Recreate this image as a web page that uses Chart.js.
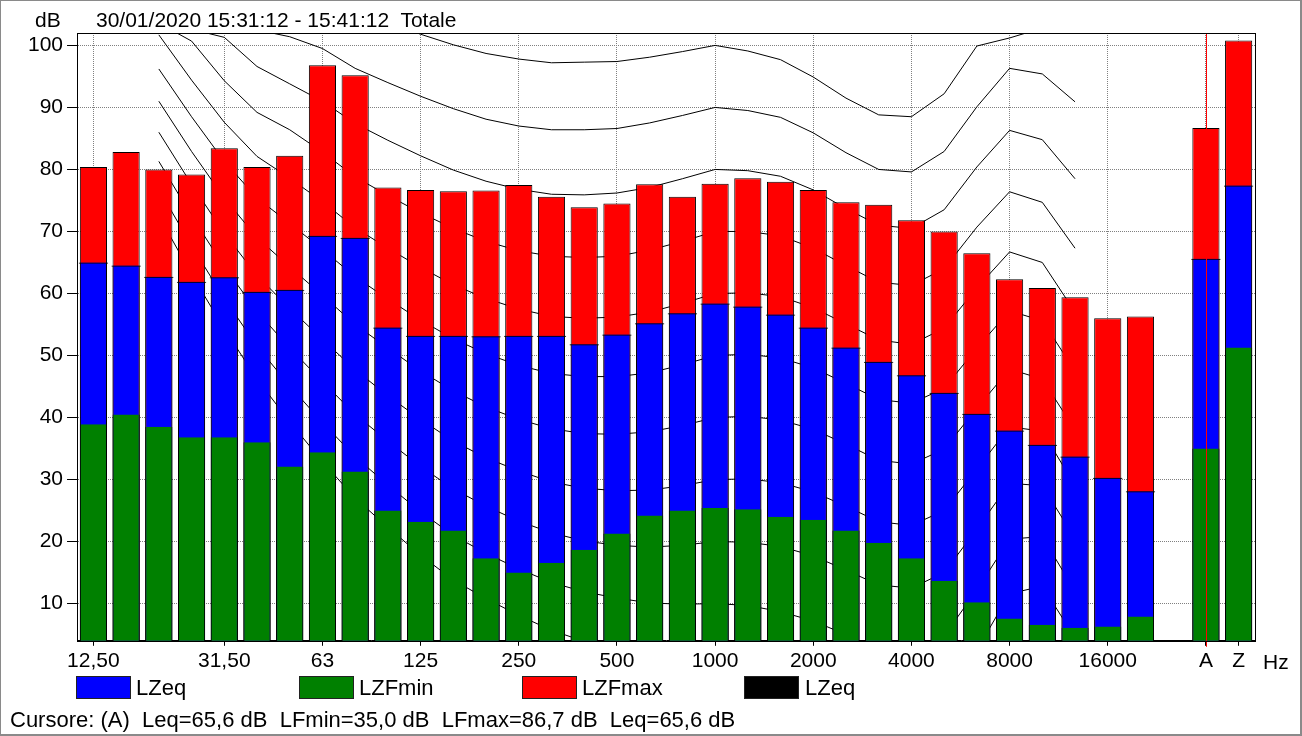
<!DOCTYPE html>
<html>
<head>
<meta charset="utf-8">
<script src="https://cdn.jsdelivr.net/npm/chart.js@4/dist/chart.umd.min.js"></script>
<style>
  html, body { margin: 0; padding: 0; background: #fff; }
  #page { position: relative; width: 1302px; height: 736px; overflow: hidden; font-family: "Liberation Sans", Arial, sans-serif; color: #000; }
  #frame { position: absolute; left: 0; top: 0; width: 1299px; height: 733px; border: 1px solid #8a8a8a; border-right-width: 2px; border-bottom-width: 2px; box-sizing: content-box; pointer-events: none; }
  canvas { position: absolute; left: 0; top: 0; }
  .txt { position: absolute; white-space: pre; line-height: 1; }
  .box { position: absolute; width: 53px; height: 21px; border: 1px solid #222; top: 676px; }
</style>
</head>
<body>
<div id="page">
  <canvas id="chart" width="1302" height="736"></canvas>
  <div class="txt" style="left:35px; top:9px; font-size:21px;">dB</div>
  <div class="txt" style="left:96px; top:9px; font-size:21px;">30/01/2020 15:31:12 - 15:41:12  Totale</div>
  <div class="txt" style="left:1263px; top:651px; font-size:21px;">Hz</div>
  <div class="box" style="left:76px; background:#0000ff;"></div>
  <div class="txt" style="left:136px; top:677px; font-size:22px;">LZeq</div>
  <div class="box" style="left:299px; background:#008000;"></div>
  <div class="txt" style="left:359px; top:677px; font-size:22px;">LZFmin</div>
  <div class="box" style="left:522px; background:#ff0000;"></div>
  <div class="txt" style="left:582px; top:677px; font-size:22px;">LZFmax</div>
  <div class="box" style="left:744px; background:#000000;"></div>
  <div class="txt" style="left:805px; top:677px; font-size:22px;">LZeq</div>
  <div class="txt" style="left:10px; top:709px; font-size:22px;">Cursore: (A)  Leq=65,6 dB  LFmin=35,0 dB  LFmax=86,7 dB  Leq=65,6 dB</div>
  <div id="frame"></div>
</div>
<script>
// third octave bands + empty slot + A / Z totals
const categories = ['12,5','16','20','25','31,5','40','50','63','80','100','125','160','200','250','315','400','500','630','800','1000','1250','1600','2000','2500','3150','4000','5000','6300','8000','10000','12500','16000','20000','-','A','Z'];
const tickLabels = ['12,50','','','','31,50','','','63','','','125','','','250','','','500','','','1000','','','2000','','','4000','','','8000','','','16000','','','A','Z'];

const lzeq   = [65.0,64.5,62.7,61.9,62.6,60.3,60.6,69.3,69.0,54.5,53.2,53.2,53.1,53.2,53.2,51.8,53.4,55.2,56.8,58.4,57.9,56.6,54.5,51.3,49.0,46.8,44.0,40.6,37.9,35.6,33.7,30.3,28.1,null,65.6,77.4];
const lzfmin = [38.9,40.5,38.5,36.8,36.8,36.0,32.1,34.4,31.3,25.0,23.2,21.8,17.3,15.0,16.6,18.7,21.3,24.2,25.0,25.4,25.2,24.0,23.5,21.8,19.8,17.3,13.7,10.2,7.6,6.6,6.1,6.3,7.9,null,35.0,51.3];
const lzfmax = [80.4,82.8,80.0,79.2,83.4,80.4,82.2,96.8,95.2,77.1,76.7,76.5,76.6,77.5,75.6,73.9,74.5,77.6,75.6,77.7,78.6,78.0,76.7,74.7,74.3,71.8,70.0,66.5,62.3,60.9,59.4,56.0,56.3,null,86.7,100.8];

// equal loudness contours, 20 Hz .. 12500 Hz
const curveBands = ['20','25','31,5','40','50','63','80','100','125','160','200','250','315','400','500','630','800','1000','1250','1600','2000','2500','3150','4000','5000','6300','8000','10000','12500'];
const phon0   = [72.5,63.1,54.3,46.2,39.3,32.9,27.0,22.3,17.8,13.8,10.8,8.1,5.7,3.9,2.5,1.3,0.5,0.0,-0.7,-1.9,-3.5,-5.7,-8.1,-8.3,-5.4,2.5,11.6,12.8,4.5];
const phon10  = [76.8,67.7,59.2,51.5,45.1,39.2,33.7,29.1,24.8,21.0,18.1,15.6,13.4,11.9,10.9,10.1,9.9,10.0,9.7,8.7,7.2,5.0,2.6,2.2,4.8,12.2,20.4,20.8,12.0];
const phon20  = [81.3,72.5,64.3,57.1,51.2,45.8,40.5,36.2,32.1,28.5,25.7,23.3,21.4,20.1,19.4,19.1,19.4,20.0,19.9,19.2,17.7,15.4,13.0,12.5,15.0,22.0,29.4,29.0,20.5];
const phon30  = [86.0,77.6,69.7,62.9,57.6,52.6,47.7,43.5,39.7,36.2,33.5,31.4,29.6,28.6,28.2,28.3,29.0,30.0,30.1,29.5,28.0,25.7,23.2,22.6,25.0,31.7,38.5,37.8,29.0];
const phon40  = [91.0,82.9,75.4,69.0,64.3,59.7,55.0,51.2,47.5,44.3,41.7,39.7,38.2,37.4,37.3,37.7,38.7,40.0,40.2,39.6,38.1,35.7,33.1,32.5,34.9,41.5,47.8,46.2,38.0];
const phon50  = [96.2,88.5,81.3,75.4,71.3,67.1,62.7,59.1,55.7,52.7,50.3,48.4,47.1,46.6,46.6,47.2,48.5,50.0,50.2,49.6,48.0,45.5,42.9,42.3,44.7,51.2,57.2,55.6,47.5];
const phon60  = [101.7,94.4,87.6,82.1,78.6,74.8,70.6,67.3,64.2,61.4,59.2,57.5,56.3,56.0,56.2,57.0,58.4,60.0,60.1,59.5,57.7,55.1,52.5,51.8,54.4,60.9,66.7,65.0,57.0];
const phon70  = [103.6,100.7,94.3,89.2,86.4,82.8,78.8,75.8,73.0,70.5,68.4,66.9,66.0,65.8,66.0,67.0,68.4,70.0,70.0,69.3,67.3,64.5,61.8,61.3,64.0,70.7,76.4,74.7,67.3];
const phon80  = [104.0,102.6,101.3,96.6,93.8,91.0,87.4,84.7,82.2,79.9,78.1,76.8,76.0,75.9,76.2,77.1,78.5,80.0,79.8,78.9,76.7,73.7,71.0,70.5,73.5,80.4,86.3,84.8,78.5];
const phon90  = [104.0,103.5,103.0,102.5,101.4,99.5,96.3,94.0,91.8,89.8,88.1,87.0,86.4,86.4,86.6,87.5,88.7,90.0,89.5,88.4,85.9,82.7,80.0,79.6,82.9,90.1,96.3,95.4,90.9];
const phon100 = [127.2,121.9,116.6,112.6,112.3,108.9,105.6,103.6,101.8,100.1,98.7,97.8,97.2,97.3,97.4,98.1,99.0,100.0,99.1,97.7,94.9,91.5,88.8,88.5,92.2,99.9,101.2,102.8,104.0];
const contours = [phon0, phon10, phon20, phon30, phon40, phon50, phon60, phon70, phon80, phon90, phon100];

const yTicks = [10, 20, 30, 40, 50, 60, 70, 80, 90, 100];
const cursorBand = 'A';

const FONT = '"Liberation Sans", Arial, sans-serif';

const curveSets = contours.map(vals => ({
    type: 'line',
    data: vals.map((v, i) => ({ x: curveBands[i], y: v })),
    borderColor: '#000',
    borderWidth: 1,
    pointRadius: 0,
    tension: 0,
    order: 10
}));

const frameAndCursor = {
    id: 'frameAndCursor',
    afterDatasetsDraw(chart) {
        const { ctx, chartArea: a, scales } = chart;
        ctx.save();
        const cx = Math.round(scales.x.getPixelForValue(categories.indexOf(cursorBand))) + 0.5;
        ctx.strokeStyle = '#ff0000';
        ctx.lineWidth = 1;
        ctx.beginPath();
        ctx.moveTo(cx, a.top);
        ctx.lineTo(cx, a.bottom + 6);
        ctx.stroke();
        ctx.strokeStyle = '#000';
        ctx.strokeRect(Math.round(a.left) + 0.5, Math.round(a.top) + 0.5, Math.round(a.right - a.left), Math.round(a.bottom - a.top));
        ctx.restore();
    }
};

new Chart(document.getElementById('chart'), {
    type: 'bar',
    data: {
        labels: categories,
        datasets: [
            { label: 'LZeq', data: lzeq, backgroundColor: 'rgba(0,0,0,0)', borderColor: '#000',
              borderWidth: { top: 1, left: 0, right: 0, bottom: 0 }, barPercentage: 0.9, order: 0 },
            { label: 'LZFmin', data: lzfmin, backgroundColor: '#008000', borderColor: '#000',
              borderWidth: { top: 0, left: 1, right: 1, bottom: 0 }, order: 1 },
            { label: 'LZeq', data: lzeq, backgroundColor: '#0000ff', borderColor: '#000',
              borderWidth: { top: 0, left: 1, right: 1, bottom: 0 }, order: 2 },
            { label: 'LZFmax', data: lzfmax, backgroundColor: '#ff0000', borderColor: '#000',
              borderWidth: { top: 1, left: 1, right: 1, bottom: 0 }, order: 3 },
            ...curveSets
        ]
    },
    options: {
        responsive: false,
        animation: false,
        events: [],
        layout: { padding: { left: 24, top: 33, right: 47, bottom: 59 } },
        datasets: { bar: { grouped: false, categoryPercentage: 1, barPercentage: 0.83, borderSkipped: false } },
        plugins: { legend: { display: false }, tooltip: { enabled: false } },
        scales: {
            x: {
                offset: true,
                grid: {
                    offset: false,
                    color: c => (tickLabels[c.index] ? '#808080' : 'rgba(0,0,0,0)'),
                    tickColor: c => (tickLabels[c.index] ? '#000' : 'rgba(0,0,0,0)'),
                    tickLength: 5
                },
                border: { color: '#000', dash: [1, 1] },
                ticks: {
                    autoSkip: false, maxRotation: 0, padding: 3, color: '#000',
                    font: { family: FONT, size: 21 },
                    callback: (v, i) => tickLabels[i]
                }
            },
            y: {
                min: 4, max: 102,
                afterBuildTicks: s => { s.ticks = yTicks.map(v => ({ value: v })); },
                grid: { color: '#808080', tickColor: '#000', tickLength: 10 },
                border: { color: '#000', dash: [1, 1] },
                ticks: { color: '#000', padding: 4, font: { family: FONT, size: 21 } }
            }
        }
    },
    plugins: [frameAndCursor]
});
</script>
</body>
</html>
